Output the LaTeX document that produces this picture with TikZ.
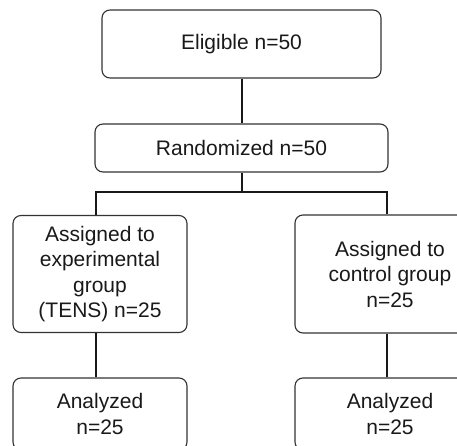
\documentclass[tikz,border=0pt]{standalone}
\usepackage{fontspec}
\setmainfont{Liberation Sans}
\begin{document}
\begin{tikzpicture}[x=1pt,y=-1pt,
    box/.style={draw=black!80,line width=1.1pt,rounded corners=8pt,inner sep=0pt,
      align=center,text=black!90,font=\fontsize{21}{25.5}\selectfont},
    link/.style={draw=black!90,line width=2pt}]
  \clip (0,0) rectangle (457,446);
  % top of the chart
  \node[box,minimum width=279pt,minimum height=68pt] (elig) at (241.5,44) {Eligible n=50};
  \node[box,minimum width=293pt,minimum height=48pt] (rand) at (241.5,148) {Randomized n=50};
  % the two arms
  \node[box,minimum width=174pt,minimum height=117pt] (exp) at (100,274) {Assigned to\\experimental\\group\\(TENS) n=25};
  \node[box,minimum width=190pt,minimum height=118pt] (ctrl) at (390,274) {Assigned to\\control group\\n=25};
  \node[box,minimum width=174pt,minimum height=72pt] (anlE) at (100,414) {Analyzed\\n=25};
  \node[box,minimum width=190pt,minimum height=72pt] (anlC) at (390,414) {Analyzed\\n=25};
  \coordinate (brL) at (96,192.5);
  \coordinate (brR) at (387,192.5);
  \draw[link] (elig) -- (rand);
  \draw[link] (rand.south) -- (rand.south |- brL);
  \draw[link] (brL |- exp.north) -- (brL) -- (brR) -- (brR |- ctrl.north);
  \draw[link] (brL |- exp.south) -- (brL |- anlE.north);
  \draw[link] (brR |- ctrl.south) -- (brR |- anlC.north);
\end{tikzpicture}
\end{document}
